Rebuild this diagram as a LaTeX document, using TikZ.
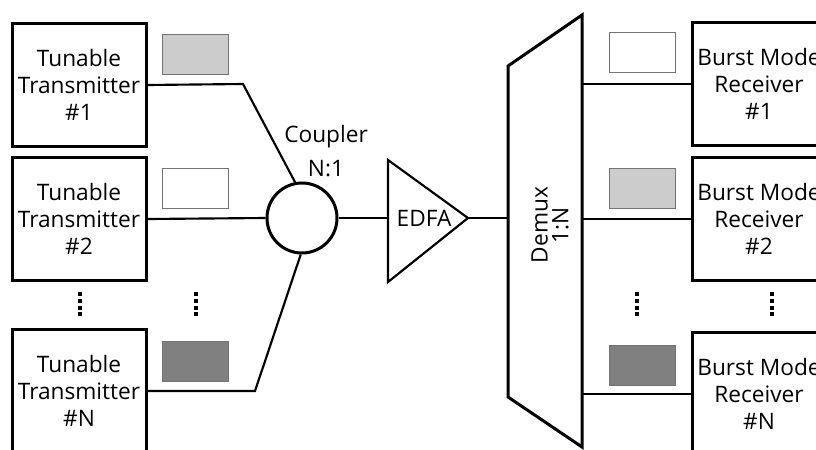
\documentclass[tikz,border=0pt]{standalone}
\usepackage{fontspec}
\setmainfont{Open Sans}
\usetikzlibrary{positioning}

\tikzset{
  unit/.style={draw, line width=2.25pt, minimum width=100.5pt, minimum height=92pt,
    align=center, inner sep=0pt, font=\fontsize{17}{20.5}\selectfont},
  chan/.style={draw=black!55, line width=0.6pt, minimum width=49.5pt,
    minimum height=30pt, inner sep=0pt},
  fiber/.style={line width=1.6pt},
  vdots/.style={line width=3pt, dash pattern=on 3pt off 2.1pt},
  lbl/.style={font=\fontsize{17}{20.5}\selectfont, align=center, inner sep=0pt},
}

\begin{document}
\begin{tikzpicture}[x=0.75pt, y=-0.75pt]
    \useasboundingbox (0,0) rectangle (816,449);
    \clip (0,0) rectangle (816,449);

    % Transmitters
    \node[unit] (tx1) at (79,85) {Tunable\\Transmitter\\\#1};
    \node[unit] (tx2) at (79,219) {Tunable\\Transmitter\\\#2};
    \node[unit] (txN) at (79,391) {Tunable\\Transmitter\\\#N};

    % Wavelength tags (transmit side)
    \node[chan, fill=black!20] (w1) at (195,54) {};
    \node[chan, fill=white] (w2) at (195,188) {};
    \node[chan, fill=black!50] (wN) at (195,361) {};

    % Coupler
    \node[draw, circle, line width=2.25pt, minimum size=52.5pt, inner sep=0pt] (cpl) at (302,218) {};
    \node[lbl] (cpllab) at (326,151) {Coupler\\[5pt]N:1};

    % EDFA
    \coordinate (edfain) at (388,218);
    \coordinate (edfaout) at (468,218);
    \draw[line width=1.6pt, line join=miter] (388,160) -- (edfaout) -- (388,282) -- cycle;
    \node[lbl] (edfa) at (424,218) {EDFA};

    % Demux
    \coordinate (dmxin) at (508,218);
    \coordinate (dmxout) at (582,0);
    \draw[line width=2.25pt] (508,66) -- (582,15) -- (582,447) -- (508,397) -- cycle;
    \node[lbl, rotate=90] (dmx) at (550,225) {Demux\\[-5pt]1:N};

    % Receivers
    \node[unit] (rx1) at (759,84) {Burst Mode\\Receiver\\\#1};
    \node[unit] (rx2) at (759,219) {Burst Mode\\Receiver\\\#2};
    \node[unit] (rxN) at (759,394) {Burst Mode\\Receiver\\\#N};

    % Wavelength tags (receive side)
    \node[chan, fill=white] (v1) at (642,52) {};
    \node[chan, fill=black!20] (v2) at (642,188) {};
    \node[chan, fill=black!50] (vN) at (642,365) {};

    % Fibres
    \coordinate (k1) at (243,84);
    \coordinate (kN) at (255,391);
    \draw[fiber] (tx1.east) -- (k1) -- (cpl.101);
    \draw[fiber] (tx2.east) -- (cpl.west);
    \draw[fiber] (txN.east) -- (kN) -- (cpl.-92);
    \draw[fiber] (cpl.east) -- (edfain);
    \draw[fiber] (edfaout) -- (dmxin);
    \draw[fiber] (rx1.west -| dmxout) -- (rx1.west);
    \draw[fiber] (rx2.west -| dmxout) -- (rx2.west);
    \draw[fiber] (rxN.west -| dmxout) -- (rxN.west);

    % Ellipsis dots
    \draw[vdots] (80,292) -- (80,317);
    \draw[vdots] (196,292) -- (196,317);
    \draw[vdots] (637,292) -- (637,317);
    \draw[vdots] (772,292) -- (772,317);
\end{tikzpicture}
\end{document}
